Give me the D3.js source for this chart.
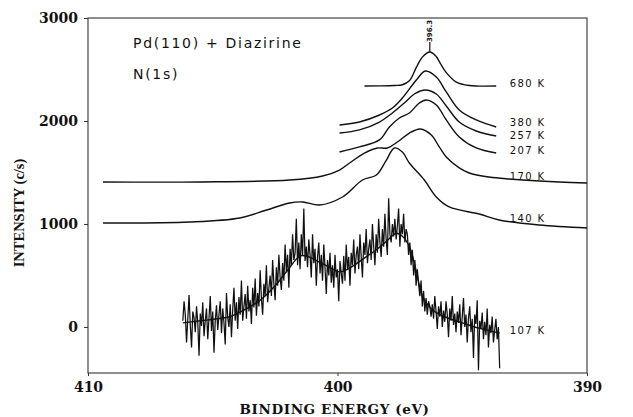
<!DOCTYPE html>
<html>
<head>
<meta charset="utf-8">
<script src="https://cdn.jsdelivr.net/npm/d3@7"></script>
<style>
  html, body { margin: 0; padding: 0; background: #fff; }
  svg { display: block; }
</style>
</head>
<body>
<svg id="chart" width="633" height="417"></svg>
<script>
// N(1s) XPS spectra of diazirine on Pd(110) after annealing to increasing temperatures.
// Each smooth spectrum is a list of [binding energy (eV), intensity (c/s)].
const energyTicks = [410, 400, 390];
const intensityTicks = [0, 1000, 2000, 3000];
const peakEnergy = 396.3;
const peakLabel = "396.3";

const spec680 = [
  [398.92, 2340], [398.32, 2341], [397.72, 2345], [397.40, 2352], [397.12, 2390],
  [396.84, 2520], [396.60, 2620], [396.30, 2670], [396.06, 2630], [395.88, 2560],
  [395.64, 2470], [395.24, 2378], [394.72, 2345], [393.64, 2340]
];
const spec380 = [
  [399.92, 1961], [399.12, 1990], [398.32, 2058], [397.80, 2126], [397.40, 2223],
  [396.84, 2398], [396.48, 2485], [396.04, 2427], [395.64, 2282], [395.12, 2107],
  [394.44, 2010], [393.64, 1942]
];
const spec257 = [
  [399.92, 1883], [399.12, 1913], [398.32, 1990], [397.80, 2078], [397.32, 2175],
  [396.92, 2262], [396.48, 2301], [396.04, 2262], [395.64, 2146], [395.12, 1990],
  [394.44, 1903], [393.64, 1854]
];
const spec207 = [
  [399.92, 1699], [399.12, 1748], [398.32, 1816], [397.92, 1942], [397.52, 2029],
  [397.12, 2078], [396.72, 2175], [396.44, 2204], [396.04, 2155], [395.64, 2010],
  [395.12, 1845], [394.44, 1738], [393.64, 1689]
];
const spec170 = [
  [409.40, 1408], [405.52, 1408], [401.92, 1427], [400.60, 1466], [399.92, 1524],
  [399.52, 1592], [398.92, 1689], [398.40, 1738], [398.00, 1738], [397.60, 1796],
  [397.12, 1883], [396.68, 1922], [396.24, 1864], [395.92, 1748], [395.64, 1650],
  [395.12, 1544], [394.72, 1495], [393.92, 1456], [393.12, 1437], [391.12, 1408],
  [390.00, 1398]
];
const spec140 = [
  [409.40, 1010], [405.92, 1019], [403.92, 1058], [402.84, 1136], [401.92, 1204],
  [401.40, 1214], [400.72, 1184], [399.80, 1262], [399.00, 1427], [398.44, 1476],
  [398.04, 1621], [397.72, 1738], [397.40, 1699], [397.12, 1592], [396.52, 1427],
  [396.04, 1262], [395.52, 1165], [394.32, 1097], [393.52, 1039], [391.92, 990],
  [390.00, 961]
];

// 107 K raw counts, sampled every 0.05 eV from 406.20 eV downwards.
const raw107Start = 406.2;
const raw107Step = 0.05;
const raw107 = [
  60, 250, 120, -150, 80, 310, 20, -200, 150, 90,
  -50, 200, 40, -280, 130, 10, 240, -90, 60, 180,
  -120, 90, 300, -40, 150, -250, 60, 210, -30, 120,
  250, -60, 180, 40, -170, 330, 90, 0, 220, -100,
  170, 380, 60, 240, -20, 290, 120, 450, 60, 200,
  320, 80, 400, 150, 260, 30, 380, 190, 470, 110,
  330, 200, 550, 280, 120, 420, 300, 600, 240, 380,
  500, 300, 650, 420, 260, 580, 400, 700, 480, 360,
  620, 450, 800, 540, 700, 380, 760, 600, 900, 650,
  720, 1050, 600, 820, 560, 900, 700, 1150, 640, 780,
  580, 850, 700, 480, 900, 620, 760, 400, 680, 820,
  520, 700, 450, 800, 580, 320, 650, 500, 720, 430,
  600, 380, 700, 480, 560, 250, 640, 520, 420, 690,
  450, 800, 560, 680, 400, 720, 600, 850, 520, 700,
  780, 560, 900, 680, 480, 820, 700, 950, 620, 760,
  850, 650, 1000, 780, 600, 900, 720, 1050, 820, 680,
  950, 780, 1100, 850, 700, 1250, 900, 820, 1000, 880,
  1050, 850, 980, 1150, 780, 1000, 900, 1100, 820, 950,
  900, 700, 820, 600, 750, 500, 650, 400, 560, 420,
  300, 450, 200, 350, 150, 280, 120, 250, 200, 100,
  220, 80, 300, 150, -20, 200, 100, 250, 0, 160,
  50, 250, 120, -100, 180, 60, 300, 20, 130, -50,
  150, 40, 220, -80, 100, 280, 0, 120, -150, 90,
  200, -50, 80, -300, 120, 30, 260, -420, 60, -20,
  140, -120, 50, -80, 180, -200, 20, -60, 100, -150,
  -30, 80, -120, 0, -400
];
// Smoothed 107 K envelope.
const fit107 = [
  [406.20, 40], [405.50, 60], [404.80, 80], [404.30, 100], [403.70, 170],
  [403.10, 260], [402.50, 400], [402.00, 550], [401.50, 690], [401.20, 685],
  [400.84, 645], [400.40, 590], [399.92, 535], [399.60, 560], [399.24, 615],
  [398.80, 690], [398.44, 750], [398.00, 840], [397.64, 910], [397.40, 880],
  [397.12, 780], [396.85, 550], [396.60, 300], [396.30, 190], [396.04, 140],
  [395.50, 80], [395.00, 40], [394.50, 0], [394.00, -30], [393.50, -60]
];

const smoothSeries = [
  { label: "680 K", data: spec680 },
  { label: "380 K", data: spec380 },
  { label: "257 K", data: spec257 },
  { label: "207 K", data: spec207 },
  { label: "170 K", data: spec170 },
  { label: "140 K", data: spec140 }
];

const svg = d3.select("#chart");
const plotLeft = 88, plotRight = 587, plotTop = 18, plotBottom = 373;

const x = d3.scaleLinear().domain([410, 390]).range([plotLeft, plotRight]);
const y = d3.scaleLinear().domain([-447, 3000]).range([plotBottom, plotTop]);

const ink = "#111";
const serif = "'DejaVu Serif', serif";
const sans = "'DejaVu Sans', sans-serif";

// Plot frame
svg.append("rect")
  .attr("x", plotLeft).attr("y", plotTop)
  .attr("width", plotRight - plotLeft).attr("height", plotBottom - plotTop)
  .attr("fill", "none").attr("stroke", "#333").attr("stroke-width", 1.1);

// Axes
const yAxis = svg.append("g")
  .attr("transform", `translate(${plotLeft},0)`)
  .call(d3.axisLeft(y).tickValues(intensityTicks).tickSize(4).tickPadding(6).tickFormat(d3.format("d")));
yAxis.select(".domain").remove();
yAxis.selectAll("line").attr("stroke", "#333");
yAxis.selectAll("text")
  .attr("font-family", serif).attr("font-weight", "bold").attr("font-size", 14).attr("fill", ink);

const xAxis = svg.append("g")
  .attr("transform", `translate(0,${plotBottom})`)
  .call(d3.axisBottom(x).tickValues(energyTicks).tickSize(3).tickPadding(6).tickFormat(d3.format("d")));
xAxis.select(".domain").remove();
xAxis.selectAll("line").attr("stroke", "#333");
xAxis.selectAll("text")
  .attr("font-family", serif).attr("font-weight", "bold").attr("font-size", 14).attr("fill", ink);

// Axis titles
svg.append("text")
  .attr("x", (plotLeft + plotRight) / 2 - 3).attr("y", 414)
  .attr("text-anchor", "middle")
  .attr("font-family", serif).attr("font-weight", "bold").attr("font-size", 13.5)
  .attr("letter-spacing", 0.6).attr("fill", ink)
  .text("BINDING ENERGY (eV)");

svg.append("text")
  .attr("transform", "translate(24,213) rotate(-90)")
  .attr("text-anchor", "middle")
  .attr("font-family", "'Liberation Serif', serif").attr("font-weight", "bold").attr("font-size", 14.5)
  .attr("fill", ink)
  .text("INTENSITY (c/s)");

// Sample description
svg.append("text")
  .attr("x", 133).attr("y", 48)
  .attr("font-family", sans).attr("font-size", 14).attr("letter-spacing", 1.7).attr("fill", ink)
  .text("Pd(110) + Diazirine");
svg.append("text")
  .attr("x", 133).attr("y", 79)
  .attr("font-family", sans).attr("font-size", 14).attr("letter-spacing", 1.7).attr("fill", ink)
  .text("N(1s)");

// Spectra
const line = d3.line()
  .x(d => x(d[0]))
  .y(d => y(d[1]))
  .curve(d3.curveCatmullRom.alpha(0.5));

svg.append("g").selectAll("path")
  .data(smoothSeries)
  .join("path")
  .attr("d", d => line(d.data))
  .attr("fill", "none").attr("stroke", ink).attr("stroke-width", 1.4);

const raw107Points = raw107.map((v, i) => [raw107Start - i * raw107Step, v]);
svg.append("path")
  .attr("d", d3.line().x(d => x(d[0])).y(d => y(d[1]))(raw107Points))
  .attr("fill", "none").attr("stroke", ink).attr("stroke-width", 1.25).attr("stroke-linejoin", "miter");

svg.append("path")
  .attr("d", line(fit107))
  .attr("fill", "none").attr("stroke", ink).attr("stroke-width", 1.4);

// Temperature labels, set just right of where each curve ends
function valueAt(data, e) {
  const pts = data.slice().sort((a, b) => a[0] - b[0]);
  if (e <= pts[0][0]) return pts[0][1];
  if (e >= pts[pts.length - 1][0]) return pts[pts.length - 1][1];
  for (let i = 1; i < pts.length; i++) {
    if (e <= pts[i][0]) {
      const t = (e - pts[i - 1][0]) / (pts[i][0] - pts[i - 1][0]);
      return pts[i - 1][1] + t * (pts[i][1] - pts[i - 1][1]);
    }
  }
}
const labelEnergy = 393.1;
const labelNudge = { "380 K": -4, "257 K": 0 };
const labelled = smoothSeries.concat([{ label: "107 K", data: fit107 }]);
svg.append("g").selectAll("text")
  .data(labelled)
  .join("text")
  .attr("x", x(labelEnergy))
  .attr("y", d => y(valueAt(d.data, labelEnergy)) + (labelNudge[d.label] ?? -2))
  .attr("dominant-baseline", "middle")
  .attr("font-family", sans).attr("font-size", 10).attr("letter-spacing", 1.4)
  .attr("fill", ink)
  .style("white-space", "pre")
  .text(d => d.label);

// Peak position marker on the 680 K spectrum
const peakTop = y(valueAt(spec680, peakEnergy));
svg.append("line")
  .attr("x1", x(peakEnergy)).attr("x2", x(peakEnergy))
  .attr("y1", peakTop).attr("y2", peakTop - 10)
  .attr("stroke", ink).attr("stroke-width", 1.2);
svg.append("text")
  .attr("transform", `translate(${x(peakEnergy) + 2.5},${peakTop - 21}) rotate(-90)`)
  .attr("text-anchor", "middle")
  .attr("font-family", sans).attr("font-weight", "bold").attr("font-size", 7)
  .attr("fill", ink)
  .text(peakLabel);
</script>
</body>
</html>
